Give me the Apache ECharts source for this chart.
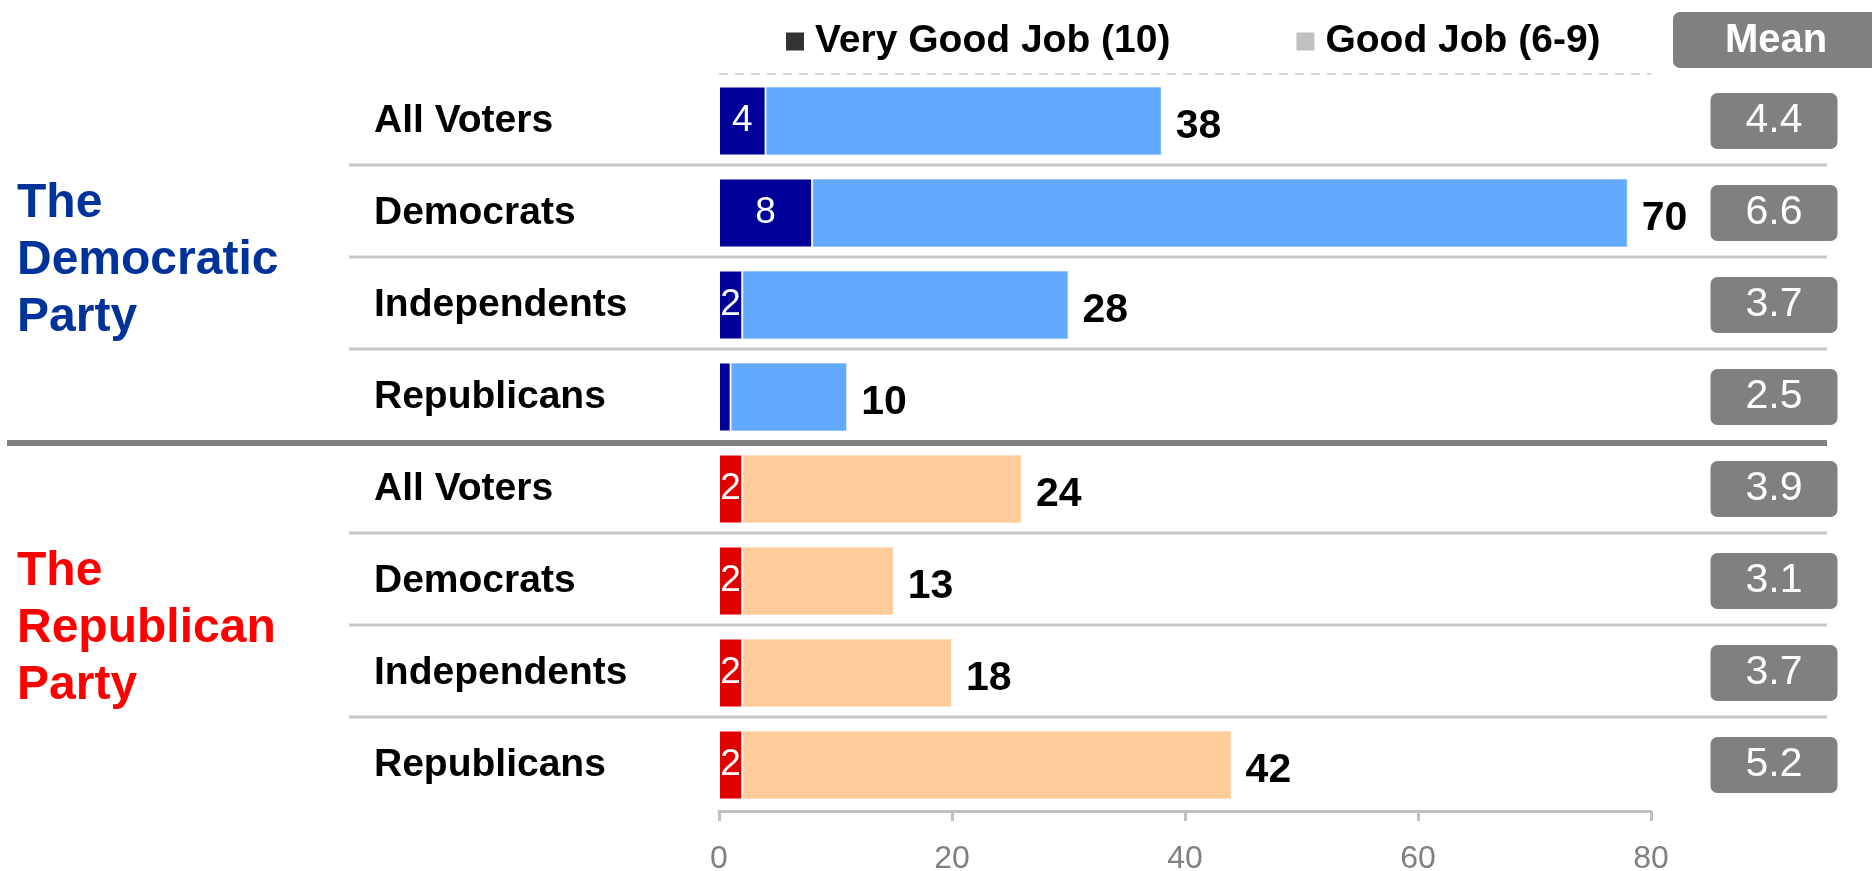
<!DOCTYPE html>
<html>
<head>
<meta charset="utf-8">
<script src="https://cdn.jsdelivr.net/npm/echarts@6/dist/echarts.min.js"></script>
<style>
  html, body { margin: 0; padding: 0; background: #ffffff; }
  #chart { width: 1872px; height: 871px; }
</style>
</head>
<body>
<div id="chart"></div>
<script>
// ---- data ----
const parties = ['The\nDemocratic\nParty', 'The\nRepublican\nParty'];
const groups = ['All Voters', 'Democrats', 'Independents', 'Republicans',
                'All Voters', 'Democrats', 'Independents', 'Republicans'];
const veryGoodJob = [4, 8, 2, 1, 2, 2, 2, 2];
const goodJobBar = [34, 70, 28, 10, 24, 13, 18, 42];
const goodJobLabel = [38, 70, 28, 10, 24, 13, 18, 42];
const meanValues = ['4.4', '6.6', '3.7', '2.5', '3.9', '3.1', '3.7', '5.2'];
const xTicks = [0, 20, 40, 60, 80];

// ---- layout / style ----
const FONT = "'Liberation Sans', Arial, sans-serif";
const G = { left: 719, right: 221, top: 75, bottom: 60 };
const demDark = '#000099', demLight = '#63aaff';
const repDark = '#e00000', repLight = '#ffcc99';
const partyColors = ['#003399', '#ff0000'];

const rowIds = groups.map((g, i) => String(i));
const chart = echarts.init(document.getElementById('chart'), null, { renderer: 'canvas' });

const option = {
  backgroundColor: '#ffffff',
  animation: false,
  textStyle: { fontFamily: FONT },
  legend: {
    selectedMode: false,
    left: 781, top: 17,
    icon: 'rect', itemWidth: 18, itemHeight: 18, itemGap: 126,
    textStyle: { fontFamily: FONT, fontSize: 39, fontWeight: 'bold', color: '#000', padding: [0, 0, 0, 6] },
    data: [
      { name: 'Very Good Job (10)', itemStyle: { color: '#333333', borderWidth: 0 } },
      { name: 'Good Job (6-9)', itemStyle: { color: '#c0c0c0', borderWidth: 0 } }
    ]
  },
  grid: { left: G.left, right: G.right, top: G.top, bottom: G.bottom,
          containLabel: false, outerBoundsMode: 'none' },
  xAxis: {
    type: 'value', min: xTicks[0], max: xTicks[xTicks.length - 1], interval: 20,
    axisLine: { show: true, lineStyle: { color: '#c0c0c0', width: 3 } },
    axisTick: { show: true, length: 10, lineStyle: { color: '#c0c0c0', width: 3 } },
    splitLine: { show: false },
    axisLabel: { color: '#808080', fontSize: 32, margin: 32, fontFamily: FONT }
  },
  yAxis: [
    {
      type: 'category', data: rowIds, inverse: true, position: 'left',
      axisLine: { show: false }, axisTick: { show: false }, splitLine: { show: false },
      axisLabel: {
        formatter: (v, i) => groups[i],
        align: 'left', margin: 345, fontSize: 39, fontWeight: 'bold', color: '#000', fontFamily: FONT
      }
    },
    {
      type: 'category', data: rowIds, inverse: true, position: 'right',
      axisLine: { show: false }, axisTick: { show: false }, splitLine: { show: false },
      axisLabel: {
        formatter: (v, i) => meanValues[i],
        align: 'center', verticalAlign: 'middle', margin: 123,
        width: 127, height: 56, lineHeight: 56,
        backgroundColor: '#808080', borderRadius: 7,
        color: '#ffffff', fontSize: 41, fontFamily: FONT
      }
    }
  ],
  series: [
    {
      name: 'Very Good Job (10)', type: 'bar', stack: 'total', barWidth: 69,
      yAxisIndex: 0,
      data: veryGoodJob,
      itemStyle: {
        color: p => (p.dataIndex < 4 ? demDark : repDark),
        borderColor: '#ffffff', borderWidth: 1
      },
      label: {
        show: true, position: 'inside', color: '#ffffff', fontSize: 37, fontFamily: FONT,
        formatter: p => (p.value >= 2 ? String(p.value) : '')
      }
    },
    {
      name: 'Good Job (6-9)', type: 'bar', stack: 'total', barWidth: 69,
      yAxisIndex: 0,
      data: goodJobBar,
      itemStyle: {
        color: p => (p.dataIndex < 4 ? demLight : repLight),
        borderColor: 'rgba(255,255,255,0.6)', borderWidth: 1
      },
      label: {
        show: true, position: 'right', distance: 14, offset: [0, 6],
        color: '#000', fontSize: 41, fontWeight: 'bold', fontFamily: FONT,
        formatter: p => String(goodJobLabel[p.dataIndex])
      }
    }
  ]
};
chart.setOption(option);

// ---- decorations computed from the axis scale ----
const c0 = chart.convertToPixel({ yAxisIndex: 0 }, rowIds[0]);
const c1 = chart.convertToPixel({ yAxisIndex: 0 }, rowIds[1]);
const band = c1 - c0;
const x0 = chart.convertToPixel({ xAxisIndex: 0 }, xTicks[0]);
const x1 = chart.convertToPixel({ xAxisIndex: 0 }, xTicks[xTicks.length - 1]);
const graphics = [];
for (let k = 1; k < groups.length; k++) {
  const y = c0 - band / 2 + k * band;
  if (k === 4) {
    graphics.push({ type: 'line', shape: { x1: 7, y1: y, x2: 1827, y2: y },
      style: { stroke: '#808080', lineWidth: 6 }, silent: true });
  } else {
    graphics.push({ type: 'line', shape: { x1: 349, y1: y - 2, x2: 1827, y2: y - 2 },
      style: { stroke: '#c8c8c8', lineWidth: 3 }, silent: true });
  }
}
// dashed line under the legend
graphics.push({ type: 'line', shape: { x1: x0, y1: G.top - 1, x2: x1, y2: G.top - 1 },
  style: { stroke: '#c8c8c8', lineWidth: 1.5, lineDash: [9, 7] }, silent: true });
// party titles
parties.forEach((t, pi) => {
  const yc = c0 - band / 2 + (pi * 4 + 2) * band + 2;
  graphics.push({ type: 'text', x: 17, y: yc, silent: true,
    style: { text: t, fill: partyColors[pi], font: 'bold 48px ' + FONT, lineHeight: 57,
             align: 'left', verticalAlign: 'middle' } });
});
// Mean header
graphics.push({ type: 'rect', shape: { x: 1673, y: 12, width: 260, height: 56, r: 7 },
  style: { fill: '#808080' }, silent: true });
graphics.push({ type: 'text', x: 1776, y: 41, silent: true,
  style: { text: 'Mean', fill: '#ffffff', font: 'bold 40px ' + FONT, align: 'center', verticalAlign: 'middle' } });

chart.setOption({ graphic: graphics });
</script>
</body>
</html>
